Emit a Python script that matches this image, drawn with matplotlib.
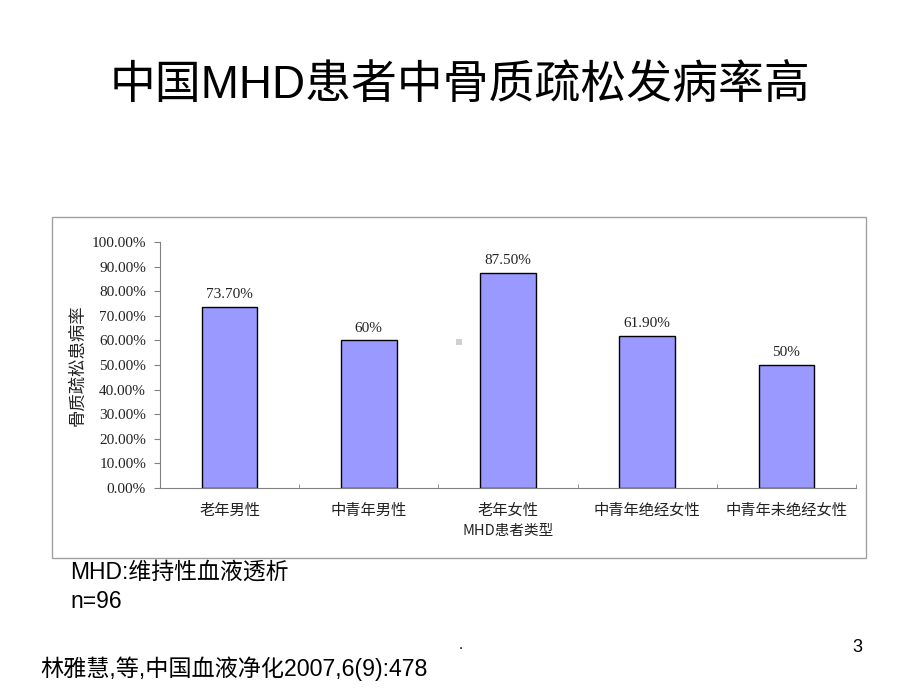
"""
MHD patients: osteoporosis prevalence by patient group (slide recreation).
"""

import matplotlib.pyplot as plt
from matplotlib.patches import Rectangle
from matplotlib.ticker import FuncFormatter, MultipleLocator

CJK = ["Noto Sans CJK SC", "DejaVu Sans"]
SANS = ["Liberation Sans", "Noto Sans CJK SC"]
NUM = ["Liberation Serif", "Noto Sans CJK SC"]

TITLE = "中国MHD患者中骨质疏松发病率高"
CATEGORIES = ["老年男性", "中青年男性", "老年女性", "中青年绝经女性", "中青年未绝经女性"]
RATES = [0.737, 0.60, 0.875, 0.619, 0.50]
BAR_LABELS = ["73.70%", "60%", "87.50%", "61.90%", "50%"]
Y_LABEL = "骨质疏松患病率"
X_LABEL = "MHD患者类型"
NOTE_LINES = ["MHD:维持性血液透析", "n=96"]
CITATION = "林雅慧,等,中国血液净化2007,6(9):478"
PAGE_NO = "3"

W, H = 920, 690


def fx(px):
    return px / W


def fy(py):
    return 1 - py / H


def main() -> None:
    fig = plt.figure(figsize=(9.2, 6.9), dpi=100)

    # slide title
    fig.text(fx(460), fy(86), TITLE, family=SANS, fontsize=33,
             ha="center", va="center", color="black")

    # border around the pasted chart
    fig.patches.append(Rectangle((fx(52), fy(558)), fx(866) - fx(52), fy(217) - fy(558),
                                 transform=fig.transFigure, fill=False,
                                 edgecolor="#a0a0a0", linewidth=1.0))

    ax = fig.add_axes([fx(160), fy(488), fx(856) - fx(160), fy(242) - fy(488)])
    x = range(len(CATEGORIES))
    bars = ax.bar(x, RATES, width=0.4, color="#9999ff", edgecolor="black", linewidth=1.0)
    for b, lab in zip(bars, BAR_LABELS):
        ax.annotate(lab, (b.get_x() + b.get_width() / 2, b.get_height()),
                    xytext=(0, 4), textcoords="offset points", ha="center", va="bottom",
                    family=NUM, fontsize=11, color="#222222")

    ax.set_xlim(-0.5, len(CATEGORIES) - 0.5)
    ax.set_ylim(0, 1.0)
    ax.yaxis.set_major_locator(MultipleLocator(0.1))
    ax.yaxis.set_major_formatter(FuncFormatter(lambda v, _: f"{v * 100:.2f}%"))
    ax.set_xticks(list(x))
    ax.set_xticklabels(CATEGORIES, family=CJK, fontsize=11, color="#222222")
    ax.set_xticks([i - 0.5 for i in range(len(CATEGORIES) + 1)], minor=True)
    ax.tick_params(axis="x", which="major", length=0, pad=10)
    ax.tick_params(axis="x", which="minor", direction="in", length=3, color="#808080")
    ax.tick_params(axis="y", direction="out", length=4, color="#808080",
                   labelsize=11, labelcolor="#222222", pad=6)
    for t in ax.get_yticklabels():
        t.set_family(NUM)

    for s in ("top", "right"):
        ax.spines[s].set_visible(False)
    for s in ("left", "bottom"):
        ax.spines[s].set_color("#808080")

    ax.set_ylabel(Y_LABEL, family=CJK, fontsize=12.5, color="#222222", labelpad=4)
    ax.set_xlabel(X_LABEL, family=CJK, fontsize=10.5, color="#222222", labelpad=4)

    # small grey square artefact in the middle of the chart
    fig.patches.append(Rectangle((fx(456), fy(345)), fx(6), fy(339) - fy(345),
                                 transform=fig.transFigure, facecolor="#d0d0d0",
                                 edgecolor="none"))

    # notes under the chart
    fig.text(fx(70), fy(572), NOTE_LINES[0], family=SANS, fontsize=16.5,
             ha="left", va="center")
    fig.text(fx(70), fy(601), NOTE_LINES[1], family=SANS, fontsize=16.5,
             ha="left", va="center")
    fig.text(fx(40), fy(669), CITATION, family=SANS, fontsize=16.7,
             ha="left", va="center")
    fig.text(fx(461), fy(645), ".", family=SANS, fontsize=11, ha="center", va="center")
    fig.text(fx(857), fy(647), PAGE_NO, family=SANS, fontsize=13,
             ha="center", va="center")

    fig.savefig("out.png", dpi=100)
    plt.close(fig)


if __name__ == "__main__":
    main()
